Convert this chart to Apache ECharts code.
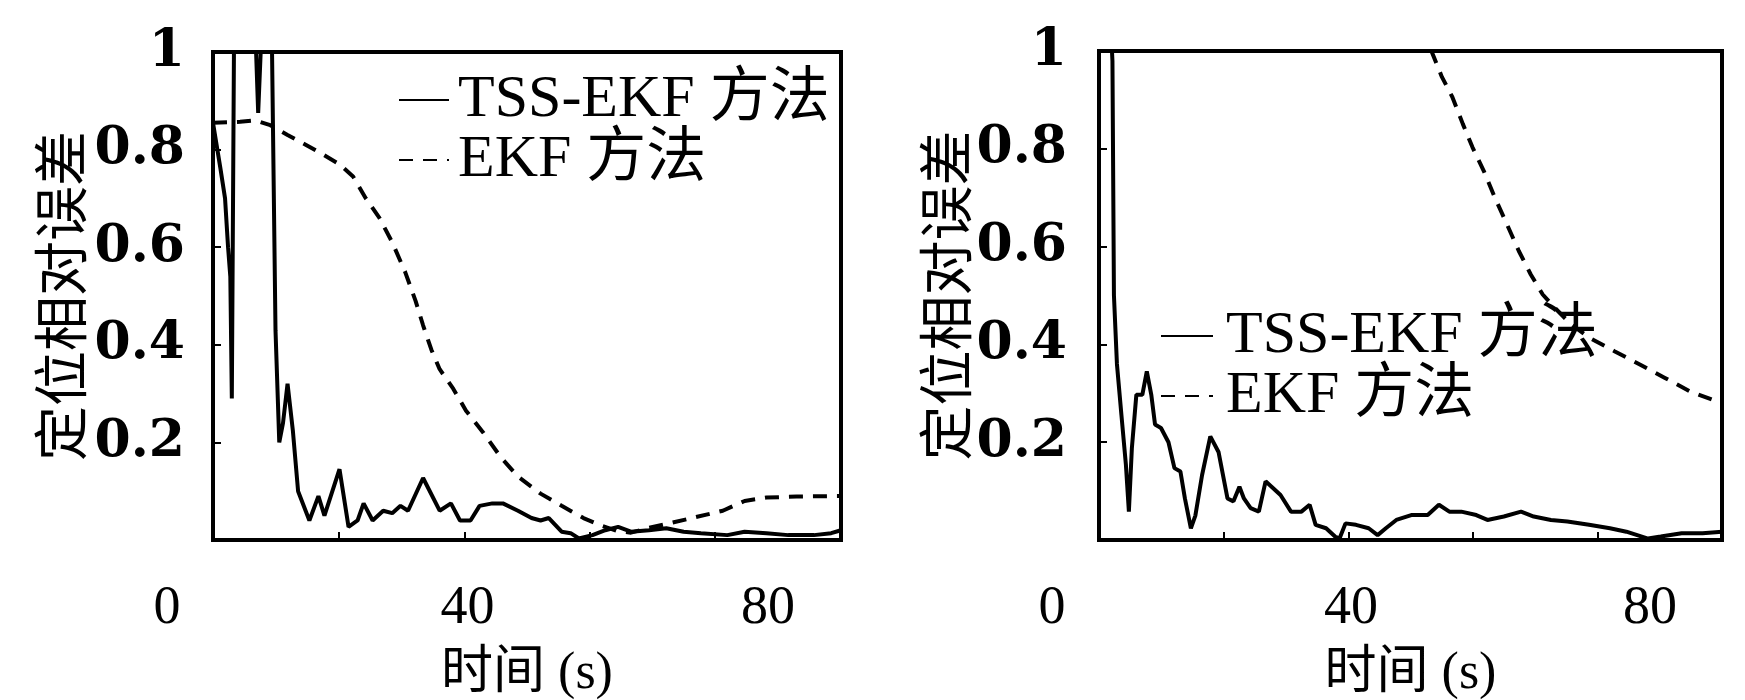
<!DOCTYPE html>
<html><head><meta charset="utf-8">
<script src="https://cdn.jsdelivr.net/npm/echarts@6/dist/echarts.min.js"></script>
<style>html,body{margin:0;padding:0;background:#fff}#c{width:1745px;height:700px}</style>
</head><body><div id="c"></div>
<script>
const seriesNames = ['TSS-EKF 方法', 'EKF 方法'];
const xLabelMin = 0, xLabelMax = 80, xLabelStep = 40;   // tick labels 0, 40, 80
const xViewMin = 6.2, xViewMax = 89.6;                 // visible span of the plot box
const xTickValues = [22.9, 39.6, 56.2, 72.9];          // small tick marks on the frame
const yLabelValues = [0.2, 0.4, 0.6, 0.8, 1];
const xAxisTitle = '时间 (s)';
const yAxisTitle = '定位相对误差';

// Left panel, TSS-EKF (solid)
const leftTssX = [6.2, 7.2, 7.8, 8.2, 8.5, 8.7, 9.1, 11.5, 11.7, 12.2, 12.8, 13.5, 14.0, 14.5, 15.0, 15.5, 16.1, 16.8, 17.5, 19.0, 20.2, 21.0, 23.0, 24.2, 25.4, 26.2, 27.4, 28.8, 30.0, 31.1, 32.1, 34.1, 36.3, 37.8, 39.0, 40.4, 41.6, 43.3, 44.7, 46.7, 48.5, 49.7, 50.8, 52.5, 53.7, 54.8, 56.6, 58.3, 60.0, 61.7, 64.1, 66.4, 68.7, 71.0, 74.5, 76.8, 79.7, 82.6, 86.0, 88.3, 89.6];
const leftTssY = [0.855, 0.76, 0.70, 0.60, 0.54, 0.29, 1.3, 1.3, 1.1, 0.875, 1.1, 1.3, 1.05, 0.43, 0.20, 0.24, 0.32, 0.225, 0.10, 0.04, 0.09, 0.05, 0.145, 0.027, 0.04, 0.075, 0.04, 0.06, 0.055, 0.07, 0.06, 0.127, 0.06, 0.075, 0.04, 0.04, 0.07, 0.075, 0.075, 0.06, 0.045, 0.04, 0.045, 0.017, 0.014, 0.003, 0.01, 0.02, 0.027, 0.017, 0.02, 0.024, 0.017, 0.014, 0.01, 0.017, 0.014, 0.01, 0.01, 0.014, 0.02];
// Left panel, EKF (dashed)
const leftEkfX = [6.2, 9.8, 11.8, 13.8, 16.1, 18.5, 20.8, 23.0, 24.8, 26.5, 28.3, 30.0, 31.7, 33.1, 34.1, 35.2, 36.3, 38.1, 39.8, 42.1, 44.4, 46.7, 49.7, 52.5, 55.4, 57.7, 60.0, 61.7, 64.1, 67.0, 69.8, 73.9, 76.8, 79.7, 83.7, 88.3, 89.6];
const leftEkfY = [0.855, 0.857, 0.86, 0.85, 0.83, 0.81, 0.79, 0.77, 0.745, 0.70, 0.66, 0.61, 0.55, 0.49, 0.44, 0.39, 0.35, 0.31, 0.265, 0.22, 0.17, 0.13, 0.095, 0.07, 0.045, 0.03, 0.018, 0.015, 0.025, 0.035, 0.045, 0.06, 0.08, 0.087, 0.089, 0.09, 0.09];
// Right panel, TSS-EKF (solid)
const rightTssX = [7.0, 8.0, 8.2, 8.6, 9.2, 9.8, 10.2, 10.6, 11.2, 12.0, 12.6, 13.2, 13.7, 14.5, 15.5, 16.3, 17.1, 17.7, 18.5, 19.1, 20.0, 21.1, 22.2, 23.4, 24.2, 25.0, 25.6, 26.5, 27.6, 28.5, 29.3, 30.5, 31.9, 33.3, 34.4, 35.2, 36.6, 37.8, 38.4, 39.2, 40.6, 42.3, 43.5, 44.6, 46.0, 48.0, 50.2, 51.7, 53.1, 54.7, 56.7, 58.2, 60.4, 62.7, 64.4, 66.7, 68.9, 71.8, 74.6, 76.8, 79.7, 81.4, 84.2, 87.0, 89.6];
const rightTssY = [1.3, 0.98, 0.5, 0.36, 0.256, 0.154, 0.058, 0.188, 0.297, 0.297, 0.345, 0.297, 0.236, 0.229, 0.20, 0.147, 0.14, 0.085, 0.024, 0.05, 0.133, 0.212, 0.18, 0.085, 0.079, 0.109, 0.085, 0.065, 0.058, 0.12, 0.109, 0.092, 0.058, 0.058, 0.072, 0.031, 0.024, 0.007, 0.003, 0.034, 0.031, 0.024, 0.01, 0.024, 0.041, 0.051, 0.051, 0.072, 0.058, 0.058, 0.051, 0.041, 0.048, 0.058, 0.048, 0.041, 0.038, 0.031, 0.024, 0.017, 0.003, 0.007, 0.014, 0.014, 0.017];
// Right panel, EKF (dashed)
const rightEkfX = [50.0, 50.7, 52.1, 53.5, 54.9, 56.2, 57.7, 59.2, 60.8, 62.4, 64.0, 65.6, 67.2, 69.4, 71.8, 75.2, 78.6, 81.9, 85.3, 88.8, 89.6];
const rightEkfY = [1.05, 1.0, 0.947, 0.906, 0.851, 0.803, 0.755, 0.70, 0.646, 0.591, 0.543, 0.502, 0.475, 0.441, 0.414, 0.386, 0.359, 0.332, 0.304, 0.284, 0.28];

function pairs(xs, ys) { return xs.map((x, i) => [x, ys[i]]); }

const serifFont = "'Liberation Serif', 'Noto Sans CJK SC', serif";
const tickStyle = { inside: true, length: 8, lineStyle: { color: '#000', width: 2 } };

function dataXAxis(g) {
  return {
    gridIndex: g, type: 'value', min: xViewMin, max: xViewMax,
    axisLine: { show: false },
    axisTick: Object.assign({ customValues: xTickValues }, tickStyle),
    axisLabel: { show: false },
    splitLine: { show: false },
    name: xAxisTitle, nameLocation: 'middle', nameGap: 108,
    nameTextStyle: { fontSize: 52, fontFamily: serifFont, color: '#000' }
  };
}
function labelXAxis(g) {
  return {
    gridIndex: g, type: 'value', min: xLabelMin, max: xLabelMax, interval: xLabelStep,
    axisLine: { show: false }, axisTick: { show: false }, splitLine: { show: false },
    axisLabel: { margin: 42, fontSize: 54, lineHeight: 54, fontFamily: 'Liberation Serif', color: '#000' }
  };
}
function dataYAxis(g, margin) {
  return {
    gridIndex: g, type: 'value', min: 0, max: 1, interval: 0.2,
    axisLine: { show: false },
    axisTick: tickStyle,
    splitLine: { show: false },
    axisLabel: {
      margin: margin, fontSize: 52, fontFamily: 'DejaVu Serif', fontWeight: 'bold', color: '#000',
      formatter: v => yLabelValues.some(t => Math.abs(t - v) < 1e-9) ? String(+v.toFixed(1)) : ''
    },
    name: yAxisTitle, nameLocation: 'middle', nameRotate: 90, nameGap: 125,
    nameTextStyle: { fontSize: 55, fontFamily: 'Noto Sans CJK SC', color: '#000' }
  };
}
function hiddenYAxis(g) { return { gridIndex: g, type: 'value', min: 0, max: 1, show: false }; }

function lineSeries(name, g, data, dashed) {
  return {
    name: name, type: 'line', xAxisIndex: g, yAxisIndex: g, data: data,
    showSymbol: false, symbol: 'none', clip: true, animation: false,
    lineStyle: { color: '#000', width: 4, type: dashed ? [14, 10] : 'solid' },
    itemStyle: { color: '#000' }
  };
}
function legendFor(left, top, pad, w) {
  return {
    left: left, top: top, orient: 'vertical', padding: 0, itemGap: 0,
    itemWidth: w, itemHeight: 6, data: seriesNames, selectedMode: false,
    itemStyle: { opacity: 0 },
    textStyle: { fontSize: 60, lineHeight: 52, fontFamily: serifFont, color: '#000', padding: [0, 0, 0, pad] }
  };
}
function gridAt(left, top, width, height, framed) {
  const g = { left: left, top: top, width: width, height: height, containLabel: false, outerBoundsMode: 'none' };
  if (framed) { g.show = true; g.borderColor = '#000'; g.borderWidth = 4; }
  return g;
}

const chart = echarts.init(document.getElementById('c'), null, { renderer: 'canvas' });
chart.setOption({
  backgroundColor: '#fff',
  animation: false,
  grid: [
    gridAt(213, 52, 628, 488, true),
    gridAt(1099, 51, 623, 489, true),
    gridAt(167, 52, 601, 488, false),
    gridAt(1052, 51, 598, 489, false)
  ],
  xAxis: [dataXAxis(0), dataXAxis(1), labelXAxis(2), labelXAxis(3)],
  yAxis: [dataYAxis(0, 28), dataYAxis(1, 32), hiddenYAxis(2), hiddenYAxis(3)],
  legend: [legendFor(398, 70, 4, 50), legendFor(1160, 306, 8, 52)],
  series: [
    lineSeries(seriesNames[0], 0, pairs(leftTssX, leftTssY), false),
    lineSeries(seriesNames[1], 0, pairs(leftEkfX, leftEkfY), true),
    lineSeries(seriesNames[0], 1, pairs(rightTssX, rightTssY), false),
    lineSeries(seriesNames[1], 1, pairs(rightEkfX, rightEkfY), true)
  ]
});
</script>
</body></html>
